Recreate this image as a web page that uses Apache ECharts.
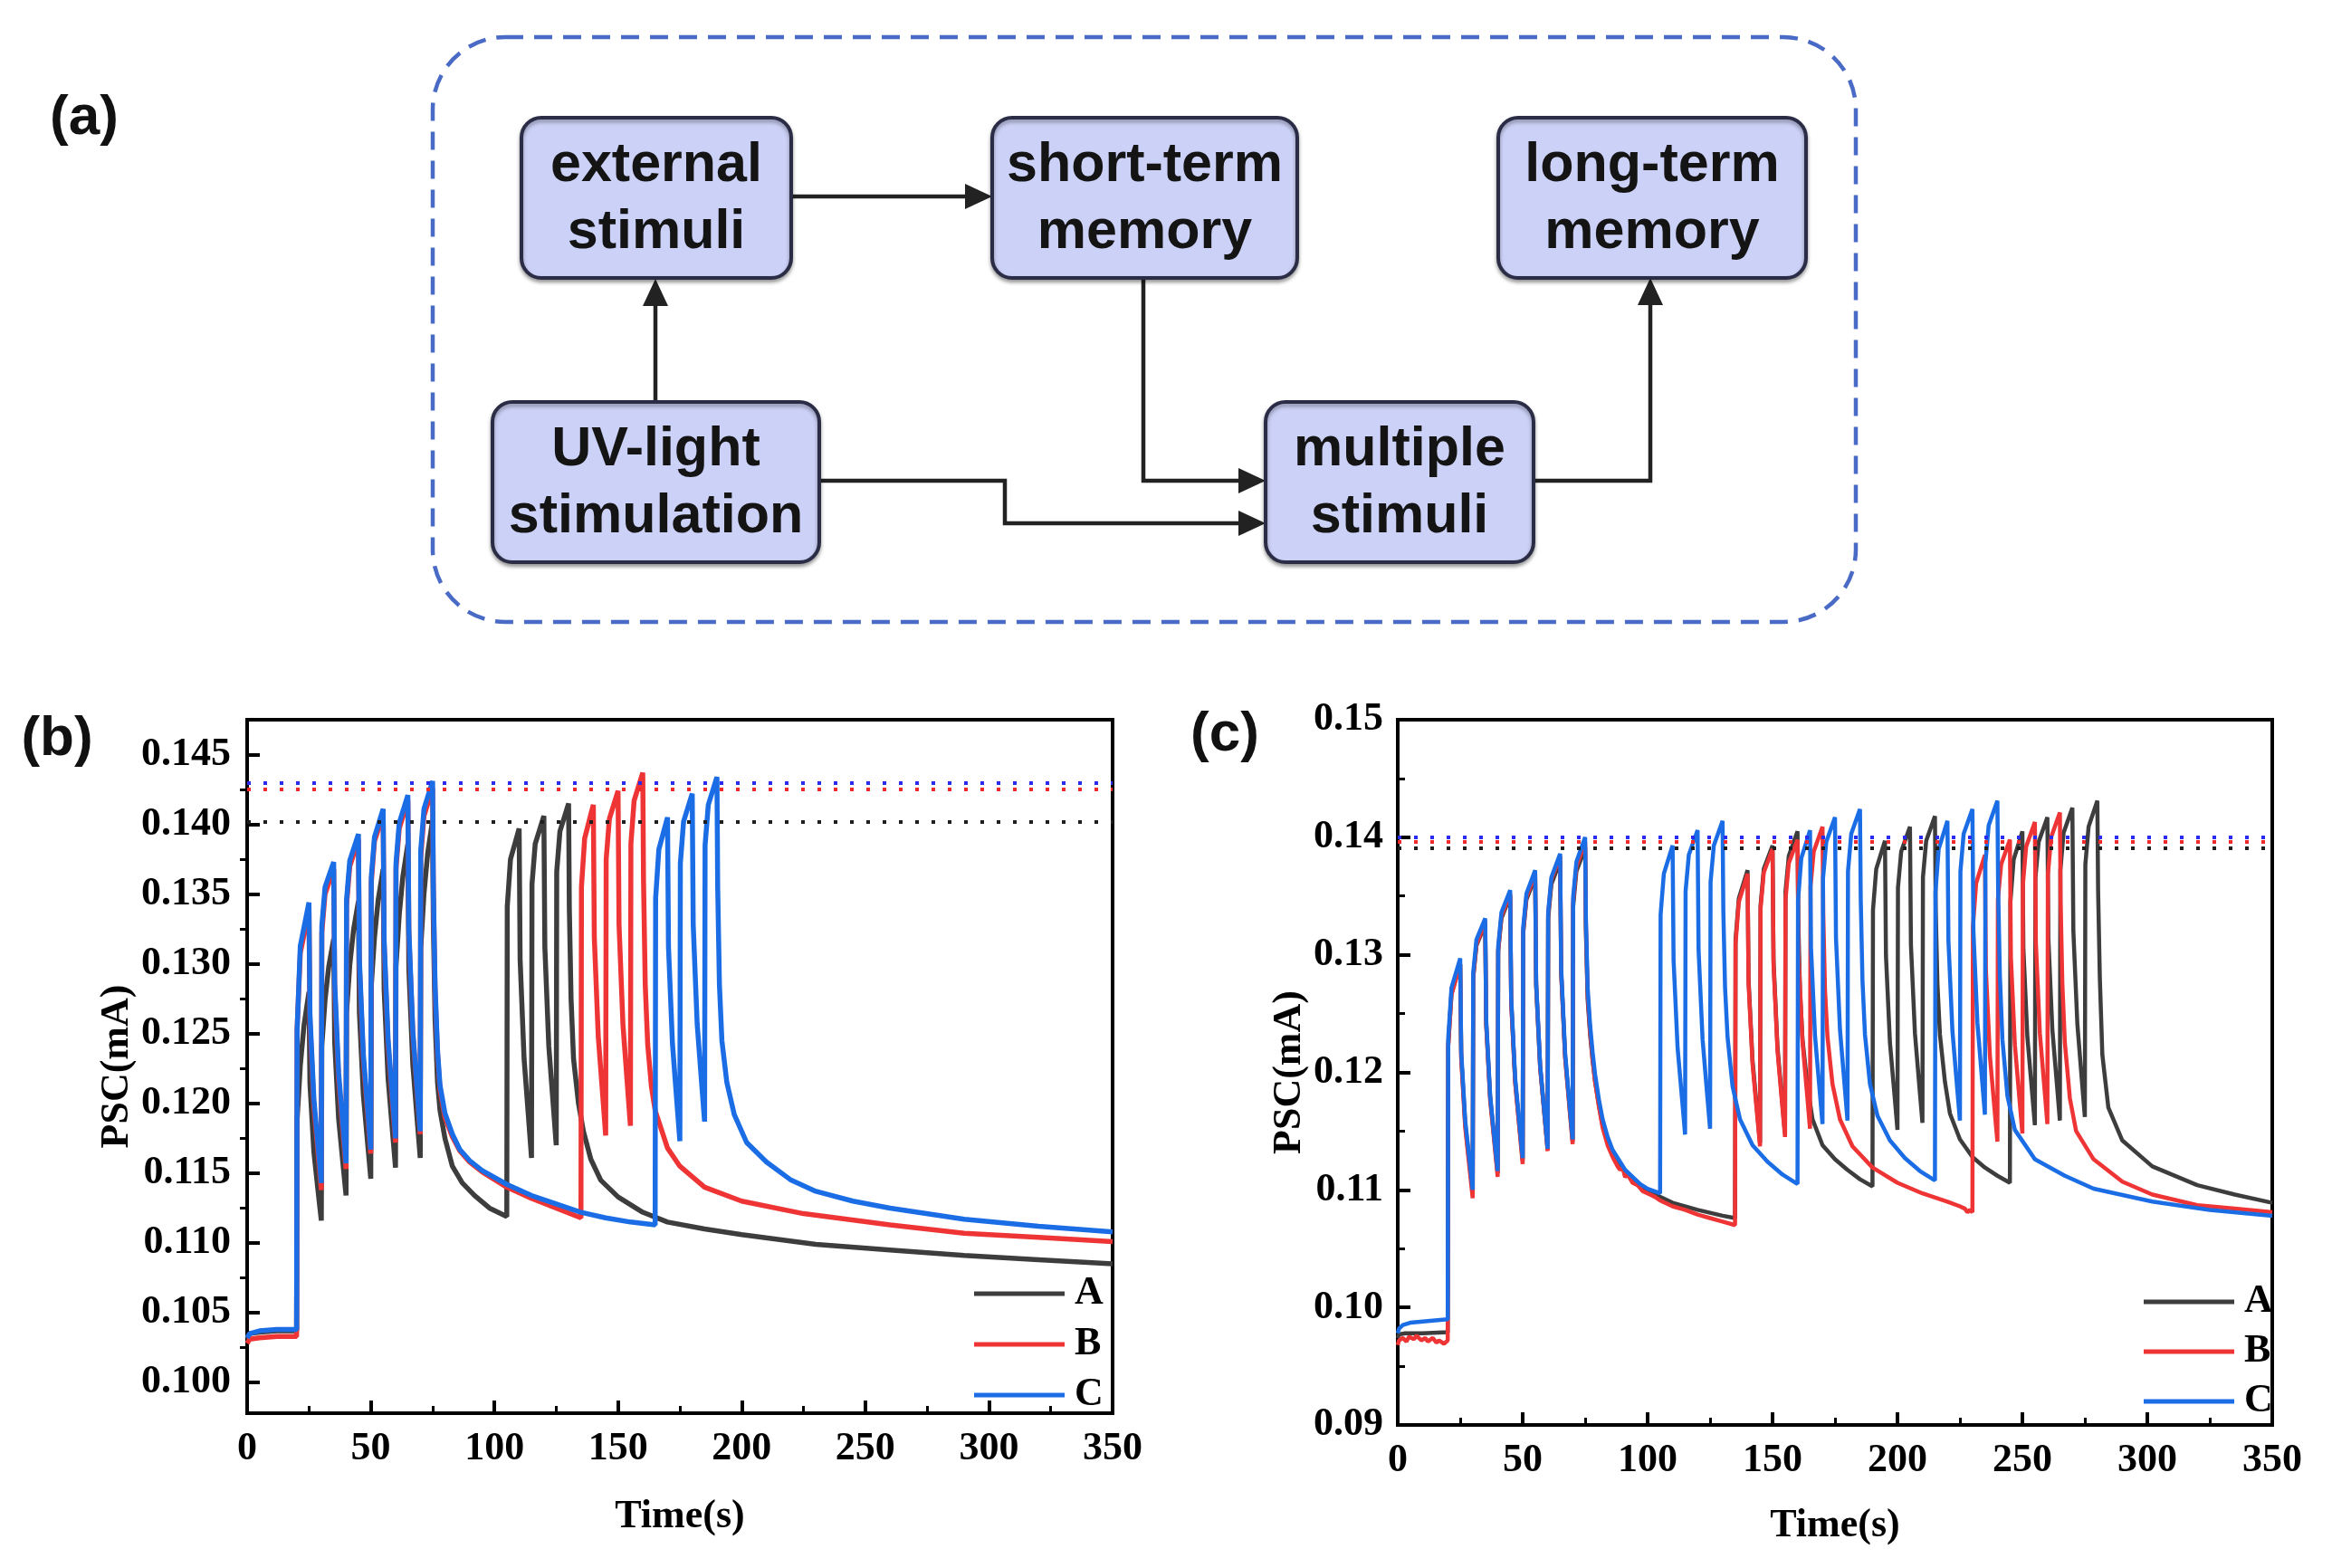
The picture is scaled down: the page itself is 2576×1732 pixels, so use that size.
<!DOCTYPE html>
<html><head><meta charset="utf-8">
<script src="https://cdn.jsdelivr.net/npm/echarts@6/dist/echarts.min.js"></script>
<style>html,body{margin:0;padding:0;background:#fff}#main{width:2576px;height:1732px}</style>
</head><body><div id="main"></div>
<script>
// ---------- data ----------
const seriesNames = ['A', 'B', 'C'];
const xTicks = [0, 50, 100, 150, 200, 250, 300, 350];
const bYMajor = [0.100, 0.105, 0.110, 0.115, 0.120, 0.125, 0.130, 0.135, 0.140, 0.145];
const bYMinor = [0.1025, 0.1075, 0.1125, 0.1175, 0.1225, 0.1275, 0.1325, 0.1375, 0.1425];
const cYTicks = [0.09, 0.10, 0.11, 0.12, 0.13, 0.14, 0.15];
const bRef = [0.1402, 0.1425, 0.1430];
const cRef = [0.1391, 0.1396, 0.1400];

const bA = [
[0,0.1031],[1,0.1035],[5,0.1036],[12,0.1037],[20,0.1037],
[20.2,0.1188],[21.5,0.1227],[23,0.1256],[25,0.1280],
[25.4,0.1214],[27,0.1165],[29,0.1132],[30,0.1116],
[30.2,0.1241],[31.5,0.1274],[33,0.1298],[35,0.1318],
[35.4,0.1244],[37,0.1189],[39,0.1152],[40,0.1134],
[40.2,0.1265],[41.5,0.1299],[43,0.1324],[45,0.1345],
[45.4,0.1265],[47,0.1206],[49,0.1166],[50,0.1146],
[50.2,0.1284],[51.5,0.1319],[53,0.1346],[55,0.1368],
[55.4,0.1282],[57,0.1218],[59,0.1175],[60,0.1154],
[60.2,0.1298],[61.5,0.1335],[63,0.1363],[65,0.1386],
[65.4,0.1296],[67,0.1228],[69,0.1183],[70,0.1161],
[70.2,0.1311],[71.5,0.1350],[73,0.1379],[75,0.1403],
[75.3,0.1330],[76,0.1260],[77,0.1215],[78,0.1195],[80,0.1175],[83,0.1155],[87,0.1143],[92,0.1134],[98,0.1125],[105,0.1119],
[105.2,0.1341],[106.5,0.1375],[110,0.1397],
[110.4,0.1303],[112,0.1232],[114,0.1185],[115,0.1161],
[115.2,0.1357],[116.5,0.1386],[120,0.1406],
[120.4,0.1312],[122,0.1241],[124,0.1194],[125,0.1170],
[125.2,0.1366],[126.5,0.1395],[130,0.1415],
[130.3,0.1340],[131,0.1275],[132,0.1232],[134,0.1200],[136,0.1180],[139,0.1160],[143,0.1145],[150,0.1133],[160,0.1122],[170,0.1115],[185,0.1110],[200,0.1106],[230,0.1099],[260,0.1095],[290,0.1091],[320,0.1088],[350,0.1085]
];
const bB = [
[0,0.1028],[1,0.1031],[5,0.1032],[12,0.1033],[20,0.1033],
[20.2,0.1253],[21.5,0.1308],[25,0.1338],
[25.4,0.1258],[27,0.1198],[29,0.1158],[30,0.1138],
[30.2,0.1322],[31.5,0.1350],[35,0.1368],
[35.4,0.1282],[37,0.1217],[39,0.1174],[40,0.1153],
[40.2,0.1342],[41.5,0.1370],[45,0.1389],
[45.4,0.1299],[47,0.1231],[49,0.1186],[50,0.1164],
[50.2,0.1358],[51.5,0.1388],[55,0.1407],
[55.4,0.1313],[57,0.1242],[59,0.1195],[60,0.1172],
[60.2,0.1368],[61.5,0.1397],[65,0.1417],
[65.4,0.1321],[67,0.1250],[69,0.1202],[70,0.1178],
[70.2,0.1376],[71.5,0.1406],[75,0.1426],
[75.3,0.1350],[76,0.1280],[77,0.1235],[78,0.1210],[80,0.1190],[83,0.1176],[86,0.1166],[90,0.1158],[95,0.1151],[105,0.1140],[115,0.1132],[125,0.1125],[135,0.1118],
[135.2,0.1355],[136.5,0.1390],[140,0.1414],
[140.4,0.1319],[142,0.1248],[144,0.1201],[145,0.1177],
[145.2,0.1375],[146.5,0.1404],[150,0.1424],
[150.4,0.1328],[152,0.1256],[154,0.1208],[155,0.1184],
[155.2,0.1386],[156.5,0.1417],[160,0.1437],
[160.3,0.1360],[161,0.1285],[162,0.1242],[163.5,0.1212],[165,0.1195],[170,0.1168],[175,0.1155],[185,0.1140],[200,0.1130],[225,0.1121],[260,0.1113],[290,0.1107],[320,0.1104],[350,0.1101]
];
const bC = [
[0,0.1032],[1,0.1035],[5,0.1037],[12,0.1038],[20,0.1038],
[20.2,0.1252],[21.5,0.1313],[25,0.1344],
[25.4,0.1264],[27,0.1203],[29,0.1163],[30,0.1143],
[30.2,0.1327],[31.5,0.1355],[35,0.1373],
[35.4,0.1287],[37,0.1222],[39,0.1179],[40,0.1157],
[40.2,0.1346],[41.5,0.1374],[45,0.1393],
[45.4,0.1303],[47,0.1235],[49,0.1190],[50,0.1167],
[50.2,0.1362],[51.5,0.1391],[55,0.1411],
[55.4,0.1317],[57,0.1246],[59,0.1199],[60,0.1175],
[60.2,0.1372],[61.5,0.1401],[65,0.1421],
[65.4,0.1325],[67,0.1252],[69,0.1204],[70,0.1180],
[70.2,0.1381],[71.5,0.1411],[75,0.1431],
[75.3,0.1355],[76,0.1285],[77,0.1238],[78,0.1213],[80,0.1193],[83,0.1178],[86,0.1167],[90,0.1159],[95,0.1152],[105,0.1142],[115,0.1134],[125,0.1128],[135,0.1122],[145,0.1118],[155,0.1115],[165,0.1113],
[165.2,0.1347],[166.5,0.1382],[170,0.1405],
[170.4,0.1312],[172,0.1243],[174,0.1196],[175,0.1173],
[175.2,0.1372],[176.5,0.1402],[180,0.1422],
[180.4,0.1328],[182,0.1257],[184,0.1210],[185,0.1187],
[185.2,0.1385],[186.5,0.1414],[190,0.1434],
[190.3,0.1355],[191,0.1285],[192,0.1245],[194,0.1215],[197,0.1192],[202,0.1172],[210,0.1158],[220,0.1145],[230,0.1137],[245,0.1130],[260,0.1125],[290,0.1117],[320,0.1112],[350,0.1108]
];
const cA = [
[0,0.0974],[0.5,0.0977],[3,0.0978],[10,0.0978],[20,0.0979],
[20.2,0.1223],[21.5,0.1267],[25,0.1292],
[25.4,0.1214],[27,0.1156],[29,0.1117],[30,0.1098],
[30.2,0.1280],[31.5,0.1308],[35,0.1326],
[35.4,0.1241],[37,0.1178],[39,0.1135],[40,0.1114],
[40.2,0.1303],[41.5,0.1331],[45,0.1350],
[45.4,0.1260],[47,0.1192],[49,0.1147],[50,0.1125],
[50.2,0.1318],[51.5,0.1347],[55,0.1366],
[55.4,0.1273],[57,0.1204],[59,0.1157],[60,0.1134],
[60.2,0.1331],[61.5,0.1360],[65,0.1380],
[65.4,0.1284],[67,0.1213],[69,0.1165],[70,0.1141],
[70.2,0.1341],[71.5,0.1371],[75,0.1391],
[75.3,0.1320],[76,0.1262],[77,0.1232],[78,0.1210],[79,0.1192],[80.5,0.1172],[82,0.1155],[84,0.1141],[86,0.1131],[91,0.1115],[97,0.1103],[100,0.1099],[105,0.1094],[110,0.1089],[120,0.1083],[130,0.1078],[135,0.1076],
[135.2,0.1313],[136.5,0.1348],[140,0.1372],
[140.4,0.1279],[142,0.1210],[144,0.1163],[145,0.1140],
[145.2,0.1342],[146.5,0.1373],[150,0.1393],
[150.4,0.1295],[152,0.1221],[154,0.1172],[155,0.1148],
[155.2,0.1354],[156.5,0.1384],[160,0.1405],
[160.3,0.1330],[161,0.1268],[162,0.1228],[164,0.1188],[166,0.1160],[170,0.1138],[175,0.1126],[180,0.1117],[185,0.1109],[190,0.1103],
[190.2,0.1338],[191.5,0.1373],[195,0.1397],
[195.4,0.1299],[197,0.1225],[199,0.1176],[200,0.1151],
[200.2,0.1357],[201.5,0.1388],[205,0.1409],
[205.4,0.1308],[207,0.1233],[209,0.1182],[210,0.1157],
[210.2,0.1366],[211.5,0.1397],[215,0.1418],
[215.3,0.1340],[216,0.1275],[217,0.1232],[219,0.1192],[221,0.1165],[225,0.1143],[230,0.1128],[235,0.1119],[240,0.1112],[245,0.1106],
[245.2,0.1345],[246.5,0.1381],[250,0.1405],
[250.4,0.1305],[252,0.1230],[254,0.1180],[255,0.1155],
[255.2,0.1365],[256.5,0.1396],[260,0.1417],
[260.4,0.1314],[262,0.1236],[264,0.1185],[265,0.1159],
[265.2,0.1372],[266.5,0.1404],[270,0.1425],
[270.4,0.1320],[272,0.1241],[274,0.1188],[275,0.1162],
[275.2,0.1377],[276.5,0.1409],[280,0.1431],
[280.3,0.1355],[281,0.1280],[282,0.1215],[284.4,0.1170],[290,0.1142],[302,0.1120],[320,0.1104],[335,0.1096],[350,0.1089]
];
const cB = [
[0,0.0968],[0.5,0.0972],[2,0.0974],[3.5,0.0971],[4.5,0.0975],[6.5,0.0973],[7.5,0.0976],[9.5,0.0972],[11,0.0974],[12,0.0971],[14,0.0974],[15.5,0.0970],[16.5,0.0972],[18.5,0.0969],[20,0.0972],
[20.2,0.1222],[21.5,0.1266],[25,0.1292],
[25.4,0.1212],[27,0.1153],[29,0.1113],[30,0.1093],
[30.2,0.1281],[31.5,0.1309],[35,0.1328],
[35.4,0.1241],[37,0.1176],[39,0.1133],[40,0.1111],
[40.2,0.1304],[41.5,0.1333],[45,0.1352],
[45.4,0.1260],[47,0.1191],[49,0.1145],[50,0.1122],
[50.2,0.1320],[51.5,0.1349],[55,0.1369],
[55.4,0.1275],[57,0.1204],[59,0.1157],[60,0.1133],
[60.2,0.1334],[61.5,0.1364],[65,0.1384],
[65.4,0.1286],[67,0.1212],[69,0.1163],[70,0.1139],
[70.2,0.1345],[71.5,0.1375],[75,0.1396],
[75.3,0.1325],[76,0.1266],[77,0.1234],[78,0.1211],[79,0.1192],[80.5,0.1171],[82,0.1153],[84,0.1138],[86,0.1128],[88,0.1120],[89,0.1117],[90,0.1119],[91,0.1111],[92,0.1113],[94,0.1106],[96,0.1104],[98,0.1099],[100,0.1097],[103,0.1094],[105,0.1091],[110,0.1086],[115,0.1083],[120,0.1079],[125,0.1076],[130,0.1073],[135,0.1070],
[135.2,0.1309],[136.5,0.1345],[140,0.1369],
[140.4,0.1276],[142,0.1207],[144,0.1160],[145,0.1137],
[145.2,0.1339],[146.5,0.1370],[150,0.1390],
[150.4,0.1292],[152,0.1218],[154,0.1169],[155,0.1145],
[155.2,0.1347],[156.5,0.1378],[160,0.1398],
[160.4,0.1300],[162,0.1226],[164,0.1177],[165,0.1152],
[165.2,0.1358],[166.5,0.1388],[170,0.1409],
[170.3,0.1335],[171,0.1270],[172,0.1230],[174,0.1190],[177,0.1160],[182,0.1137],[190,0.1119],[200,0.1106],[210,0.1097],[220,0.1090],[225,0.1086],[227,0.1084],[228,0.1081],[229,0.1083],[230,0.1081],
[230.2,0.1324],[231.5,0.1361],[235,0.1385],
[235.4,0.1287],[237,0.1214],[239,0.1165],[240,0.1141],
[240.2,0.1347],[241.5,0.1377],[245,0.1398],
[245.4,0.1298],[247,0.1223],[249,0.1173],[250,0.1148],
[250.2,0.1360],[251.5,0.1392],[255,0.1413],
[255.4,0.1310],[257,0.1233],[259,0.1182],[260,0.1156],
[260.2,0.1368],[261.5,0.1400],[265,0.1421],
[265.3,0.1345],[266,0.1275],[267,0.1225],[269,0.1178],[271.5,0.1150],[278.5,0.1126],[290,0.1107],[302,0.1096],[320,0.1087],[335,0.1084],[350,0.1081]
];
const cC = [
[0,0.0978],[0.5,0.0982],[2,0.0985],[5,0.0987],[10,0.0988],[15,0.0989],[20,0.0990],
[20.2,0.1229],[21.5,0.1272],[25,0.1297],
[25.4,0.1218],[27,0.1159],[29,0.1120],[30,0.1100],
[30.2,0.1285],[31.5,0.1313],[35,0.1331],
[35.4,0.1245],[37,0.1180],[39,0.1137],[40,0.1116],
[40.2,0.1307],[41.5,0.1336],[45,0.1355],
[45.4,0.1264],[47,0.1195],[49,0.1150],[50,0.1127],
[50.2,0.1323],[51.5,0.1352],[55,0.1372],
[55.4,0.1277],[57,0.1206],[59,0.1159],[60,0.1135],
[60.2,0.1336],[61.5,0.1366],[65,0.1386],
[65.4,0.1289],[67,0.1216],[69,0.1167],[70,0.1143],
[70.2,0.1349],[71.5,0.1379],[75,0.1400],
[75.3,0.1332],[76,0.1272],[77,0.1240],[78,0.1217],[79,0.1198],[80.5,0.1177],[82,0.1160],[84,0.1145],[86,0.1134],[91,0.1117],[97,0.1105],[100,0.1101],[105,0.1097],
[105.2,0.1334],[106.5,0.1369],[110,0.1393],
[110.4,0.1295],[112,0.1221],[114,0.1172],[115,0.1147],
[115.2,0.1354],[116.5,0.1385],[120,0.1406],
[120.4,0.1304],[122,0.1228],[124,0.1177],[125,0.1152],
[125.2,0.1362],[126.5,0.1393],[130,0.1414],
[130.3,0.1338],[131,0.1272],[132,0.1230],[134,0.1188],[137,0.1160],[142,0.1138],[148,0.1124],[154,0.1113],[160,0.1105],
[160.2,0.1346],[161.5,0.1382],[165,0.1406],
[165.4,0.1306],[167,0.1231],[169,0.1181],[170,0.1156],
[170.2,0.1365],[171.5,0.1396],[175,0.1417],
[175.4,0.1314],[177,0.1236],[179,0.1185],[180,0.1159],
[180.2,0.1371],[181.5,0.1403],[185,0.1424],
[185.3,0.1348],[186,0.1278],[187,0.1232],[189,0.1190],[192,0.1163],[197,0.1142],[203,0.1127],[209,0.1116],[215,0.1108],
[215.2,0.1353],[216.5,0.1390],[220,0.1414],
[220.4,0.1312],[222,0.1235],[224,0.1184],[225,0.1159],
[225.2,0.1371],[226.5,0.1403],[230,0.1424],
[230.4,0.1320],[232,0.1242],[234,0.1190],[235,0.1164],
[235.2,0.1378],[236.5,0.1410],[240,0.1431],
[240.3,0.1355],[241,0.1282],[242,0.1228],[244,0.1180],[247,0.1151],[255,0.1126],[267,0.1112],[278.5,0.1101],[302,0.1090],[325,0.1083],[350,0.1078]
];

// ---------- styles ----------
const lineColors = ['#3d3d3d', '#ee3434', '#1b6de6'];
const refColors = ['#1e1e1e', '#f02a2a', '#2a2af0'];
const serif = '"Liberation Serif", "Times New Roman", serif';
const sans = '"Liberation Sans", Arial, sans-serif';
const tickFont = { fontFamily: serif, fontWeight: 'bold', fontSize: 44, color: '#000' };

function xAxisFor(grid, gap) {
  return {
    type: 'value', gridIndex: grid, min: 0, max: 350, interval: 50,
    name: 'Time(s)', nameLocation: 'middle', nameGap: gap,
    nameTextStyle: { fontFamily: serif, fontWeight: 'bold', fontSize: 44, color: '#000' },
    axisLine: { show: true, onZero: false, lineStyle: { color: '#000', width: 4 } },
    axisTick: { show: true, inside: true, length: 14, lineStyle: { color: '#000', width: 4 } },
    minorTick: { show: true, splitNumber: 2, length: 8, lineStyle: { color: '#000', width: 3 } },
    axisLabel: Object.assign({ margin: 18, formatter: v => String(v) }, tickFont),
    splitLine: { show: false }
  };
}

function refLine(value, color) {
  return { silent: true, symbol: ['none', 'none'], precision: 4, label: { show: false },
    emphasis: { disabled: true },
    lineStyle: { color: color, type: [4, 14], width: 4 },
    data: [{ yAxis: value }] };
}

const dataB = [bA, bB, bC];
const dataC = [cA, cB, cC];
const series = [];
seriesNames.forEach((n, i) => {
  series.push({
    name: n, type: 'line', xAxisIndex: 0, yAxisIndex: 0, data: dataB[i],
    showSymbol: false, symbol: 'none', color: lineColors[i],
    lineStyle: { width: 5.5, color: lineColors[i] }, z: 2 + i,
    markLine: refLine(bRef[i], refColors[i])
  });
});
seriesNames.forEach((n, i) => {
  series.push({
    name: n, type: 'line', xAxisIndex: 1, yAxisIndex: 2, data: dataC[i],
    showSymbol: false, symbol: 'none', color: lineColors[i],
    lineStyle: { width: 4.5, color: lineColors[i] }, z: 2 + i,
    markLine: refLine(cRef[i], refColors[i])
  });
});

// ---------- flowchart (a) ----------
const boxFill = '#ccd1f7', boxStroke = '#2a2d45', arrowCol = '#222';
const boxes = [
  { x: 576, y: 130, w: 298, h: 177, t: 'external\nstimuli' },
  { x: 1096, y: 130, w: 337, h: 177, t: 'short-term\nmemory' },
  { x: 1655, y: 130, w: 340, h: 177, t: 'long-term\nmemory' },
  { x: 544, y: 444, w: 361, h: 177, t: 'UV-light\nstimulation' },
  { x: 1398, y: 444, w: 296, h: 177, t: 'multiple\nstimuli' }
];
const graphics = [];
graphics.push({ type: 'rect', shape: { x: 478, y: 41, width: 1572, height: 646, r: 80 },
  style: { fill: 'none', stroke: '#4a6bc5', lineWidth: 4.5, lineDash: [20, 12] }, silent: true });
const paths = [
  [[875, 217], [1072, 217]],
  [[724, 444], [724, 332]],
  [[1263, 307], [1263, 531], [1374, 531]],
  [[905, 531], [1110, 531], [1110, 578], [1374, 578]],
  [[1694, 531], [1823, 531], [1823, 331]]
];
paths.forEach(p => graphics.push({ type: 'polyline', shape: { points: p },
  style: { stroke: arrowCol, lineWidth: 4.5, fill: null }, silent: true }));
const heads = [
  [[1096, 217], [1066, 203], [1066, 231]],
  [[724, 308], [710, 338], [738, 338]],
  [[1398, 531], [1368, 517], [1368, 545]],
  [[1398, 578], [1368, 564], [1368, 592]],
  [[1823, 307], [1809, 337], [1837, 337]]
];
heads.forEach(p => graphics.push({ type: 'polygon', shape: { points: p },
  style: { fill: arrowCol }, silent: true }));
boxes.forEach(b => {
  graphics.push({ type: 'rect', shape: { x: b.x, y: b.y, width: b.w, height: b.h, r: 22 },
    style: { fill: boxFill, stroke: boxStroke, lineWidth: 4, shadowBlur: 4, shadowOffsetY: 3,
      shadowColor: 'rgba(0,0,0,0.35)' }, silent: true });
  graphics.push({ type: 'text', x: b.x + b.w / 2, y: b.y + b.h / 2 + 2,
    style: { text: b.t, align: 'center', textAlign: 'center', verticalAlign: 'middle',
      textVerticalAlign: 'middle', fontFamily: sans, fontWeight: 'bold', fontSize: 61,
      lineHeight: 74, fill: '#141414' }, silent: true });
});
[['(a)', 93, 131], ['(b)', 63, 817], ['(c)', 1353, 812]].forEach(l => graphics.push({
  type: 'text', x: l[1], y: l[2],
  style: { text: l[0], align: 'center', textAlign: 'center', verticalAlign: 'middle',
    textVerticalAlign: 'middle', fontFamily: sans, fontWeight: 'bold', fontSize: 62, fill: '#111' },
  silent: true }));

// ---------- chart ----------
const legendText = { fontFamily: serif, fontWeight: 'bold', fontSize: 44, color: '#000', lineHeight: 43, padding: [0, 0, 0, 6] };
const option = {
  animation: false,
  backgroundColor: '#fff',
  grid: [
    { left: 273, top: 795, width: 956, height: 766, show: true, borderColor: '#000', borderWidth: 4,
      backgroundColor: 'transparent', containLabel: false, outerBoundsMode: 'none' },
    { left: 1544, top: 795, width: 966, height: 779, show: true, borderColor: '#000', borderWidth: 4,
      backgroundColor: 'transparent', containLabel: false, outerBoundsMode: 'none' }
  ],
  xAxis: [xAxisFor(0, 93), xAxisFor(1, 90)],
  yAxis: [
    { type: 'value', gridIndex: 0, min: 0.0978, max: 0.1475,
      name: 'PSC(mA)', nameLocation: 'middle', nameGap: 113, nameRotate: 90,
      nameTextStyle: { fontFamily: serif, fontWeight: 'bold', fontSize: 44, color: '#000' },
      axisLine: { show: true, onZero: false, lineStyle: { color: '#000', width: 4 } },
      axisTick: { show: true, inside: true, length: 14, customValues: bYMajor, lineStyle: { color: '#000', width: 4 } },
      axisLabel: Object.assign({ margin: 18, customValues: bYMajor, formatter: v => Number(v).toFixed(3) }, tickFont),
      splitLine: { show: false } },
    { type: 'value', gridIndex: 0, min: 0.0978, max: 0.1475,
      axisLine: { show: false },
      axisTick: { show: true, inside: true, length: 8, customValues: bYMinor, lineStyle: { color: '#000', width: 3 } },
      axisLabel: { show: false }, splitLine: { show: false } },
    { type: 'value', gridIndex: 1, min: 0.09, max: 0.15, interval: 0.01,
      name: 'PSC(mA)', nameLocation: 'middle', nameGap: 95, nameRotate: 90,
      nameTextStyle: { fontFamily: serif, fontWeight: 'bold', fontSize: 44, color: '#000' },
      axisLine: { show: true, onZero: false, lineStyle: { color: '#000', width: 4 } },
      axisTick: { show: true, inside: true, length: 14, lineStyle: { color: '#000', width: 4 } },
      minorTick: { show: true, splitNumber: 2, length: 8, lineStyle: { color: '#000', width: 3 } },
      axisLabel: Object.assign({ margin: 16, formatter: v => Number(v).toFixed(2) }, tickFont),
      splitLine: { show: false } }
  ],
  legend: [
    { data: seriesNames, orient: 'vertical', left: 1071, top: 1402, itemWidth: 100, itemHeight: 5,
      itemGap: 12, icon: 'rect', textStyle: legendText, selectedMode: false },
    { data: seriesNames, orient: 'vertical', left: 2363, top: 1411, itemWidth: 100, itemHeight: 5,
      itemGap: 11, icon: 'rect', textStyle: legendText, selectedMode: false }
  ],
  graphic: { elements: graphics },
  series: series
};
const chart = echarts.init(document.getElementById('main'), null, { renderer: 'canvas' });
chart.setOption(option);
</script>
</body></html>
